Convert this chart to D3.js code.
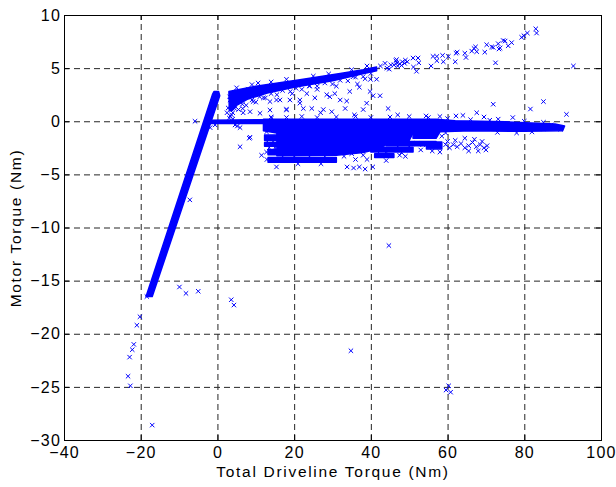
<!DOCTYPE html>
<html>
<head>
<meta charset="utf-8">
<script src="https://cdn.jsdelivr.net/npm/d3@7/dist/d3.min.js"></script>
<style>
  body { margin: 0; background: #fff; }
  text { font-family: Arial, "Liberation Sans", Helvetica, sans-serif; font-weight: normal; fill: #000; }
</style>
</head>
<body>
<script>
// axis ticks
var xTicks = [-40, -20, 0, 20, 40, 60, 80, 100];
var yTicks = [-30, -25, -20, -15, -10, -5, 0, 5, 10];

// dense regions of overlapping samples (Total Driveline Torque, Motor Torque)
var bandDiag = [[-18.6,-16.5],[-17.0,-16.5],[0.6,2.4],[0.3,2.8],[-0.9,2.8],[-1.3,2.5]];
var bandZero = [[-2.2,0.1],[12.5,0.15],[12.5,-0.2],[-2.2,-0.2]];
var wedgeUpper = [[3.0,2.8],[10,3.3],[21.5,3.9],[32,4.5],[38,4.85],[41.5,5.1],[41.5,4.75],[37,4.4],[30,3.8],[20,3.2],[13,2.65],[8,2.1],[5,1.5],[3.8,1.0],[3.1,1.0]];
var bandMain = [[12,0.2],[57,0.2],[62,0.05],[75,-0.05],[88,-0.25],[90.5,-0.45],[90,-0.9],[80,-0.95],[66,-0.9],[58,-1.0],[57,-1.6],[51,-1.6],[51,-1.1],[15.5,-1.1],[12,-0.9]];
var blockLower = [[15.5,-1.1],[51,-1.1],[50,-1.8],[45,-2.0],[42,-2.6],[38,-2.95],[31,-3.2],[15.5,-3.25]];
var stripes = [
  [[12.3,-1.3],[15.6,-1.3],[15.6,-1.8],[12.3,-1.8]],
  [[12.3,-2.0],[15.6,-2.0],[15.6,-2.35],[12.3,-2.35]],
  [[13.2,-2.65],[15.6,-2.65],[15.6,-3.15],[13.2,-3.15]],
  [[13.2,-3.4],[31,-3.4],[31,-3.85],[13.2,-3.85]],
  [[44,-1.9],[57,-1.9],[57,-2.3],[44,-2.3]],
  [[40,-2.45],[51,-2.45],[51,-2.9],[40,-2.9]],
  [[41,-3.05],[46,-3.05],[46,-3.4],[41,-3.4]],
  [[54.5,-1.95],[58.5,-1.95],[58.5,-2.6],[54.5,-2.6]]
];

// isolated samples
var outliersLow = [[-21.8,-21.0],[-22.2,-21.5],[-22.9,-22.2],[-23.3,-24.0],[-22.7,-24.9],[-21.0,-19.2],[-20.2,-18.4],
  [-17.0,-28.6],[-18.4,-16.5],[-9.9,-15.6],[-8.2,-16.2],[-5.0,-16.0],[-7.2,-7.4],[3.6,-16.8],[4.3,-17.3],
  [34.8,-21.6],[44.7,-11.7],[59.6,-25.3],[60.3,-24.9],[60.8,-25.5],[-5.85,0.0],[-0.6,-0.35],[-1.9,-0.6]];
var upperTrail = [[43.7,5.45],[44.8,4.9],[46,5.3],[46.8,5.5],[47.5,5.4],[48.2,5.6],[48.8,5.45],[49.5,5.6],[47,5.2],
  [48,5.25],[46.5,5.7],[49,5.75],[46.7,5.8],[51,5.95],[52.3,5.95],[52.5,5.5],[51.9,4.7],[51.1,5.1],[55.7,5.2],
  [56.2,6.1],[57.2,6.1],[57.2,5.7],[58.7,6.2],[58.9,5.6],[60.2,6.1],[62.2,6.4],[62.5,6.5],[62,5.6],[64.5,6.4],
  [64.8,6.0],[66.3,6.6],[66.9,6.85],[67.3,7.0],[67.6,6.55],[69.7,6.5],[70.2,7.2],[71.5,7.0],[71.9,6.95],[73.2,7.3],
  [73.4,6.8],[72.5,5.5],[74.5,7.6],[73.7,6.9],[75.0,7.55],[75.8,7.1],[76.7,7.4],[79.3,7.9],[79.9,8.05],[80.8,8.3],
  [83.0,8.7],[83.2,8.3],[92.8,5.2],[42.5,5.2],[44.2,5.0],[45.2,5.3]];
var midScatter = [[71.9,1.6],[85.0,1.85],[81.6,1.15],[91.0,0.65],[67.6,0.8],[62.2,0.5],[54.4,0.5],[73.2,0.2],
  [42.4,2.4],[40.6,2.4],[39.8,2.8],[38.9,1.7],[38.0,1.1],[39.9,3.95],[41.5,3.95],[35.4,4.2],[33.7,1.9],[33.3,1.2],
  [35.7,0.6],[32.0,2.0],[29.8,0.9],[30.6,2.6],[29.3,2.3],[28.5,2.5],[27.6,1.1],[26.9,0.8],[25.4,2.2],[24.6,1.2],
  [23.3,2.6],[21.5,2.0],[21.5,1.7],[22.4,1.2],[18.1,1.1],[16.3,2.0],[15.4,2.0],[13.7,1.85],[13.7,1.05],[14.1,0.3],
  [10.6,3.6],[9.3,1.85],[11.1,0.75],[8.5,0.9],[6.7,0.8],[6.7,-0.05],[5.2,-0.45],[6.6,1.2],[4.6,1.4],[3.7,0.6],
  [3.1,0.3],[17.9,1.1],[18.9,2.0],[2.5,0.8],[2.8,1.25],[3.3,2.0],[4.0,0.2],[12.0,2.2],[19.5,2.6],[26.0,3.0],
  [31.0,3.3],[36.5,3.5],[34.5,2.8],[24.0,3.3],[10.0,2.5],[8.0,3.0],[38.5,4.0],[37.0,3.2],[44.5,1.2],[47.0,0.6],
  [58.0,0.45],[64.0,0.55],[77.0,0.35],[69.5,0.4]];
var wedgeEdge = [[4,0.8],[4.5,1.2],[5.5,1.1],[6.5,1.6],[7.5,1.5],[9,2.0],[10,1.8],[11,2.3],[12.5,2.2],[14,2.6],
  [15.5,2.5],[17,2.9],[19,2.8],[20.5,3.1],[22,3.0],[24,3.35],[26,3.3],[28,3.6],[30,3.5],[32,3.85],[34,3.8],
  [36,4.15],[38,4.2],[40,4.5],[3.3,0.5],[3.6,1.6],[3.2,2.3],[5,3.15],[9,3.45],[14,3.7],[18,3.95],[25,4.25],
  [29,4.45],[35,4.85],[39,5.2]];
var mainEdge = [[14,0.4],[18,0.35],[22,0.45],[26,0.35],[31,0.4],[36,0.45],[40,0.35],[45,0.4],[50,0.45],[55,0.35],
  [60,0.25],[66,0.15],[71,0.1],[80,0.0],[85,-0.1],[12.6,-0.6],[12.8,-1.0],[85,-0.7],[87,-0.35],[89.5,-0.75],
  [82,-1.0],[78,-1.1],[73,-1.05]];
var lowerScatter = [[5.9,-2.4],[8.3,-1.6],[11.5,-3.2],[15.4,-4.3],[4.6,-0.35],[5.9,-0.6],[8.5,-1.5],[17.1,-2.95],
  [33.8,-4.3],[35.5,-4.4],[37.0,-4.3],[38.5,-4.5],[40.5,-4.3],[36.0,-3.6],[39.0,-3.6],[47.5,-3.2],[49.5,-2.0],
  [52.0,-2.1],[53.5,-2.2],[51.5,-0.9],[53.0,-1.2],[55.5,-1.4],[56.0,-0.95],
  [59.5,-2.2],[60.5,-2.5],[61.5,-2.2],[62.5,-2.4],[63.5,-2.1],[64.5,-2.5],[65.5,-2.3],[66.5,-2.0],[67.5,-2.4],
  [68.5,-2.2],[69.5,-2.5],[70.3,-2.3],[60,-1.9],[62,-1.8],[64.5,-1.6],[67,-1.7],[69,-1.9],[65.5,-2.8],[68,-2.8],
  [70,-2.7],[58.0,-2.9],[56.0,-2.8],[27.0,-4.0],[21.0,-4.0],[44.0,-3.7],
  [13,-1.9],[14.5,-1.9],[13.5,-2.5],[15,-2.5],[17,-3.3],[20,-3.3],[24,-3.3],[28,-3.3],[33,-3.3],[35,-3.05],
  [38,-3.2],[43,-2.4],[47,-2.4],[50,-2.35],[41,-2.0],[42,-2.95],[44,-3.0],[48,-2.95],[12.8,-2.9],[12.9,-3.6],
  [53,-2.7],[49,-3.3],[58.5,-1.4],[59.5,-1.1]];

var x = d3.scaleLinear().domain([-40, 100]).range([64, 601]);
var y = d3.scaleLinear().domain([-30, 10]).range([440, 15]);

var svg = d3.select('body').append('svg')
  .attr('width', 616)
  .attr('height', 487)
  .style('display', 'block');

svg.append('defs').append('clipPath').attr('id', 'plot')
  .append('rect').attr('x', 64).attr('y', 15).attr('width', 537).attr('height', 425);

// dashed grid
var grid = svg.append('g')
  .attr('stroke', '#000')
  .attr('stroke-width', 1)
  .attr('stroke-dasharray', '6,4')
  .attr('opacity', 0.85);

grid.selectAll('line.gx')
  .data(xTicks.slice(1, -1))
  .enter().append('line')
  .attr('x1', function (d) { return x(d) + 0.5; })
  .attr('x2', function (d) { return x(d) + 0.5; })
  .attr('y1', 440)
  .attr('y2', 15);

grid.selectAll('line.gy')
  .data(yTicks.slice(1, -1))
  .enter().append('line')
  .attr('y1', function (d) { return y(d) + 0.5; })
  .attr('y2', function (d) { return y(d) + 0.5; })
  .attr('x1', 64)
  .attr('x2', 601);

var plot = svg.append('g').attr('clip-path', 'url(#plot)');

// dense clouds
var area = d3.line()
  .x(function (d) { return x(d[0]); })
  .y(function (d) { return y(d[1]); })
  .curve(d3.curveLinearClosed);

var clouds = [bandDiag, bandZero, wedgeUpper, bandMain, blockLower].concat(stripes);

plot.selectAll('path.cloud')
  .data(clouds)
  .enter().append('path')
  .attr('class', 'cloud')
  .attr('d', area)
  .attr('fill', '#0000ff')
  .attr('stroke', '#0000ff')
  .attr('stroke-width', 1.5)
  .attr('stroke-linejoin', 'round');

// x markers
var s = 2.2;
var points = outliersLow.concat(upperTrail, midScatter, wedgeEdge, mainEdge, lowerScatter);

plot.selectAll('path.pt')
  .data(points)
  .enter().append('path')
  .attr('class', 'pt')
  .attr('d', function (d) {
    var px = x(d[0]), py = y(d[1]);
    return 'M' + (px - s) + ',' + (py - s) + 'L' + (px + s) + ',' + (py + s) +
           'M' + (px - s) + ',' + (py + s) + 'L' + (px + s) + ',' + (py - s);
  })
  .attr('fill', 'none')
  .attr('stroke', '#0000ff')
  .attr('stroke-width', 1);

// axes, ticks pointing inward on all four sides
svg.append('g')
  .attr('transform', 'translate(0,440)')
  .call(d3.axisBottom(x).tickValues(xTicks).tickSizeInner(-5).tickSizeOuter(0).tickPadding(7));

svg.append('g')
  .attr('transform', 'translate(64,0)')
  .call(d3.axisLeft(y).tickValues(yTicks).tickSizeInner(-5).tickSizeOuter(0).tickPadding(3));

svg.append('g')
  .attr('transform', 'translate(0,15)')
  .call(d3.axisTop(x).tickValues(xTicks).tickSizeInner(-5).tickSizeOuter(0).tickFormat(''));

svg.append('g')
  .attr('transform', 'translate(601,0)')
  .call(d3.axisRight(y).tickValues(yTicks).tickSizeInner(-5).tickSizeOuter(0).tickFormat(''));

svg.selectAll('.domain').remove();
svg.selectAll('.tick line').attr('stroke', '#000');

svg.selectAll('.tick text')
  .attr('font-size', 16)
  .attr('font-family', 'Arial, "Liberation Sans", sans-serif')
  .style('letter-spacing', '1.2px');

// box
svg.append('rect')
  .attr('x', 64.5)
  .attr('y', 15.5)
  .attr('width', 537)
  .attr('height', 425)
  .attr('fill', 'none')
  .attr('stroke', '#000')
  .attr('stroke-width', 1);

// labels
svg.append('text')
  .attr('x', 333)
  .attr('y', 477)
  .attr('text-anchor', 'middle')
  .attr('font-size', 15.5)
  .style('letter-spacing', '1.7px')
  .text('Total Driveline Torque (Nm)');

svg.append('text')
  .attr('transform', 'translate(21,228) rotate(-90)')
  .attr('text-anchor', 'middle')
  .attr('font-size', 15.5)
  .style('letter-spacing', '1.7px')
  .text('Motor Torque (Nm)');
</script>
</body>
</html>
